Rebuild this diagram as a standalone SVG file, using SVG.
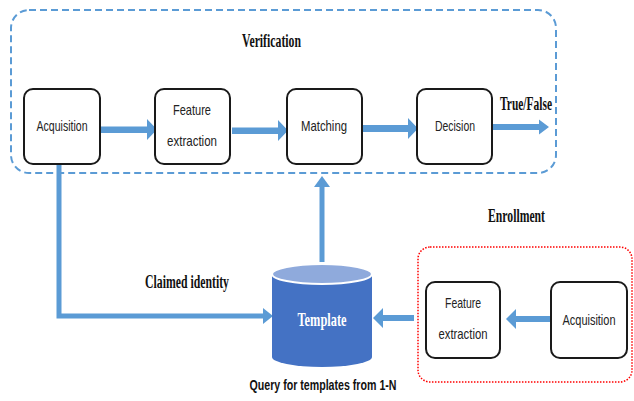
<svg xmlns="http://www.w3.org/2000/svg" width="634" height="401" viewBox="0 0 634 401">
<style>
.node rect{fill:#fff;stroke:#1a1a1a;stroke-width:2}
.nt{font-family:"Liberation Sans",Arial,sans-serif;font-size:15px;fill:#222;text-anchor:middle}
.lbl{font-family:"Liberation Serif","Times New Roman",serif;font-weight:bold;font-size:18px;fill:#111}
.arr{fill:#5B9BD5}
.ln{fill:none;stroke:#5B9BD5;stroke-width:5}
</style>
<rect width="634" height="401" fill="#fff"/>
<g id="verification-group">
<rect x="11" y="10" width="545" height="163" rx="18" fill="none" stroke="#5B9BD5" stroke-width="2" stroke-dasharray="7 4"/>
<text class="lbl" x="242" y="47" textLength="59" lengthAdjust="spacingAndGlyphs">Verification</text>
</g>
<g id="enrollment-group">
<rect x="418" y="247" width="214" height="135" rx="12" fill="none" stroke="#FF0000" stroke-width="1.5" stroke-dasharray="1.5 1.5"/>
<text class="lbl" x="488" y="222" textLength="57" lengthAdjust="spacingAndGlyphs">Enrollment</text>
</g>
<g id="connectors">
<path class="arr" d="M101,126.5 H147 V119 L157,129.5 L147,140 V133 H101 Z"/>
<path class="arr" d="M232,127.5 H278 V120 L288,130.5 L278,141 V134 H232 Z"/>
<path class="arr" d="M363,125 H408 V118 L418,128.5 L408,139 V132 H363 Z"/>
<path class="arr" d="M493,124 H539 V119.5 L549,127 L539,134.5 V130 H493 Z"/>
<polyline class="ln" points="59,164 59,316 264,316"/>
<path class="arr" d="M263,308 L273,316 L263,324 Z"/>
<line class="ln" x1="322" y1="262" x2="322" y2="186"/>
<path class="arr" d="M314,187 L322,176 L330,187 Z"/>
<path class="arr" d="M550,316 H516 V309 L506,319 L516,329 V322 H550 Z"/>
<path class="arr" d="M414,315 H383 V308 L373,318 L383,328 V321 H414 Z"/>
<text class="lbl" x="500" y="110" textLength="52" lengthAdjust="spacingAndGlyphs">True/False</text>
<text class="lbl" x="145" y="288" textLength="84" lengthAdjust="spacingAndGlyphs">Claimed identity</text>
</g>
<g id="acquisition" class="node">
<rect x="24" y="89" width="76" height="75" rx="9"/>
<text class="nt" x="62" y="131" textLength="51" lengthAdjust="spacingAndGlyphs">Acquisition</text>
</g>
<g id="feature-extraction" class="node">
<rect x="155" y="89" width="75" height="75" rx="9"/>
<text class="nt" x="192" y="115" textLength="38" lengthAdjust="spacingAndGlyphs">Feature</text>
<text class="nt" x="192" y="146" textLength="50" lengthAdjust="spacingAndGlyphs">extraction</text>
</g>
<g id="matching" class="node">
<rect x="287" y="89" width="75" height="75" rx="9"/>
<text class="nt" x="324" y="131" textLength="46" lengthAdjust="spacingAndGlyphs">Matching</text>
</g>
<g id="decision" class="node">
<rect x="417" y="89" width="75" height="75" rx="9"/>
<text class="nt" x="455" y="131" textLength="40" lengthAdjust="spacingAndGlyphs">Decision</text>
</g>
<g id="template">
<path d="M272,274 V357 A50,10 0 0 0 372,357 V274 Z" fill="#4472C4"/>
<ellipse cx="322" cy="274" rx="50" ry="10" fill="#8FAADC" stroke="#fff" stroke-width="2"/>
<text x="322" y="326" font-family="'Liberation Serif','Times New Roman',serif" font-weight="bold" font-size="19" fill="#fff" text-anchor="middle" textLength="49" lengthAdjust="spacingAndGlyphs">Template</text>
<text x="323" y="390" font-family="'Liberation Sans',Arial,sans-serif" font-weight="bold" font-size="15" fill="#111" text-anchor="middle" textLength="147" lengthAdjust="spacingAndGlyphs">Query for templates from 1-N</text>
</g>
<g id="enroll-feature-extraction" class="node">
<rect x="426" y="282" width="74" height="76" rx="9"/>
<text class="nt" x="463" y="308" textLength="36" lengthAdjust="spacingAndGlyphs">Feature</text>
<text class="nt" x="463" y="339" textLength="49" lengthAdjust="spacingAndGlyphs">extraction</text>
</g>
<g id="enroll-acquisition" class="node">
<rect x="551" y="282" width="76" height="76" rx="9"/>
<text class="nt" x="589" y="325" textLength="53" lengthAdjust="spacingAndGlyphs">Acquisition</text>
</g>
</svg>
